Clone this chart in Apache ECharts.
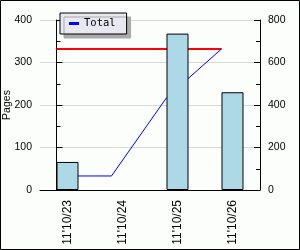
<!DOCTYPE html>
<html><head><meta charset="utf-8">
<script src="https://cdn.jsdelivr.net/npm/echarts@6/dist/echarts.min.js"></script>
<style>html,body{margin:0;padding:0;background:#fcfefc}#c{width:300px;height:250px}</style>
</head><body><div id="c"></div>
<script>
var categories = ["11'10/23", "11'10/24", "11'10/25", "11'10/26"];
var pages = [66, 0, 368, 230];
var total = [66, 66, 434, 664];
var target = [664, 664, 664, 664];
var leftTicks = [0, 100, 200, 300, 400];
var rightTicks = [0, 200, 400, 600, 800];

var chart = echarts.init(document.getElementById('c'), null, {renderer: 'canvas'});
var font = 'Liberation Sans, Arial, sans-serif';
function pts(arr){ return arr.map(function(v,i){ return [i, v]; }); }
chart.setOption({
  backgroundColor: '#fcfefc',
  animation: false,
  textStyle: {fontFamily: font},
  graphic: [{type:'rect', shape:{x:0.5,y:0.5,width:299,height:249}, style:{fill:null, stroke:'#000', lineWidth:1}, z:100}],
  legend: {
    data: ['Total'], left: 60, top: 13, orient: 'horizontal',
    backgroundColor: '#e8e8f0', borderColor: '#000', borderWidth: 1,
    shadowColor: '#aaaaaa', shadowOffsetX: 4, shadowOffsetY: 4, shadowBlur: 0,
    padding: [5, 11, 5, 9], itemWidth: 10, itemHeight: 3, itemGap: 8,
    icon: 'rect',
    textStyle: {fontFamily: 'DejaVu Sans Mono, monospace', fontSize: 10.5, color: '#000'}
  },
  grid: {left: 40, right: 40, top: 20, bottom: 60, containLabel: false, outerBoundsMode: 'none'},
  xAxis: [{
    type: 'category', data: categories, boundaryGap: true,
    axisLine: {lineStyle: {color: '#000', width: 1}},
    axisTick: {inside: true, length: 5, lineStyle: {color: '#000'}},
    axisLabel: {rotate: 90, margin: 10, fontSize: 12, color: '#000', fontFamily: font},
    splitLine: {show: false}
  }, {
    type: 'value', min: -0.3, max: 3.7, show: false
  }],
  yAxis: [{
    type: 'value', min: leftTicks[0], max: leftTicks[leftTicks.length-1], interval: 100,
    name: 'Pages', nameLocation: 'middle', nameGap: 27, nameRotate: 90, nameMoveOverlap: false,
    nameTextStyle: {fontSize: 10.5, color: '#000', fontFamily: font},
    axisLine: {show: true, lineStyle: {color: '#000'}},
    axisTick: {show: true, inside: true, length: 6, lineStyle: {color: '#000'}},
    minorTick: {show: true, splitNumber: 2, length: 4, lineStyle: {color: '#000'}},
    axisLabel: {margin: 8, fontSize: 10.5, color: '#000', fontFamily: font},
    splitLine: {show: true, lineStyle: {color: '#d8d8d8', width: 1}}
  }, {
    type: 'value', min: rightTicks[0], max: rightTicks[rightTicks.length-1], interval: 200,
    position: 'right',
    axisLine: {show: true, lineStyle: {color: '#000'}},
    axisTick: {show: true, inside: true, length: 6, lineStyle: {color: '#000'}},
    minorTick: {show: true, splitNumber: 2, length: 4, lineStyle: {color: '#000'}},
    axisLabel: {margin: 8, fontSize: 10.5, color: '#000', fontFamily: font},
    splitLine: {show: false}
  }],
  series: [{
    name: 'Pages', type: 'bar', data: pages.map(function(v){ return v === 0 ? null : v; }), barWidth: 22,
    xAxisIndex: 0, yAxisIndex: 0,
    itemStyle: {color: '#add8e6', borderColor: '#000', borderWidth: 1},
    z: 3
  }, {
    name: 'Target', type: 'line', data: pts(target), xAxisIndex: 1, yAxisIndex: 1,
    symbol: 'none', lineStyle: {color: '#ff0000', width: 2}, z: 2
  }, {
    name: 'Total', type: 'line', data: pts(total), xAxisIndex: 1, yAxisIndex: 1,
    symbol: 'none', color: '#0000ff', lineStyle: {color: '#0000ff', width: 1}, z: 2
  }]
});
</script></body></html>
